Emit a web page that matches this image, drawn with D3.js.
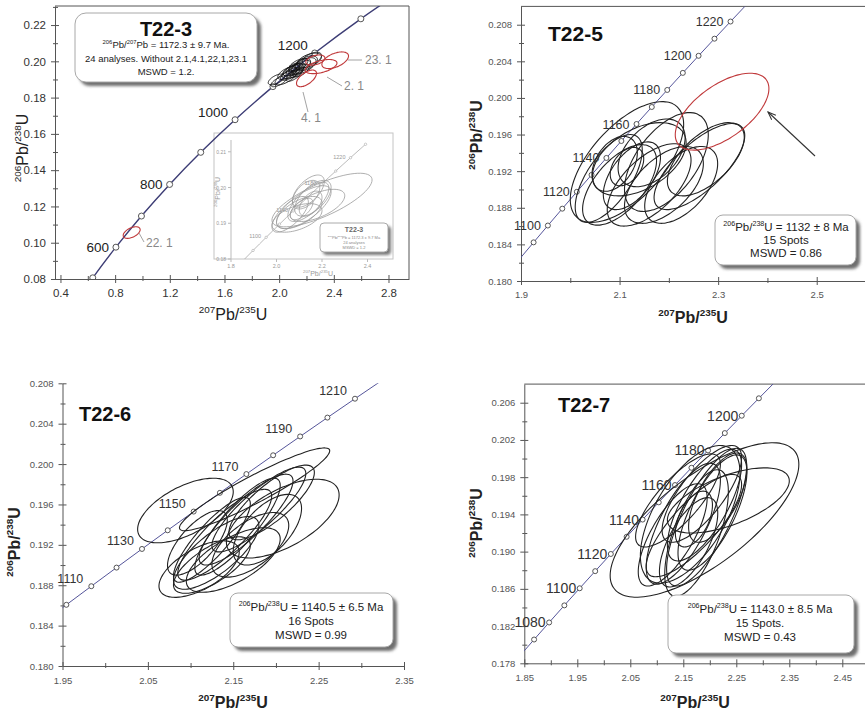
<!DOCTYPE html>
<html><head><meta charset="utf-8">
<script src="https://cdn.jsdelivr.net/npm/d3@7"></script>
<style>body{margin:0;background:#fff}svg{display:block}text{font-family:"Liberation Sans",Arial,sans-serif}</style>
</head><body><svg id="c" width="865" height="713"></svg>
<script>
// ---------------- DATA ----------------
// Concordia (100 Ma steps) for T22-3
const concAges100 = [400,500,600,700,800,900,1000,1100,1200,1300,1400];
const concX100 = [0.48281,0.63628,0.80563,0.99251,1.19873,1.42630,1.67741,1.95452,2.26030,2.59774,2.97010];
const concY100 = [0.064016,0.080650,0.097544,0.114702,0.132129,0.149828,0.167804,0.186061,0.204603,0.223435,0.242562];
// Concordia (10 Ma steps) for T22-5/6/7 and inset
const concAges10 = [1050,1060,1070,1080,1090,1100,1110,1120,1130,1140,1150,1160,1170,1180,1190,1200,1210,1220,1230,1240];
const concX10 = [1.81255,1.84039,1.86850,1.89689,1.92556,1.95452,1.98376,2.01329,2.04311,2.07323,2.10365,2.13436,2.16538,2.19671,2.22835,2.26030,2.29257,2.32516,2.35807,2.39130];
const concY10 = [0.176897,0.178724,0.180554,0.182387,0.184223,0.186061,0.187902,0.189746,0.191594,0.193443,0.195296,0.197152,0.199010,0.200872,0.202736,0.204603,0.206473,0.208346,0.210222,0.212101];

const p1MarkerAges = [500,600,700,800,900,1000,1100,1200,1300];
const p1LabelAges = [600,800,1000,1200];
const p2MarkerAges = [1090,1100,1110,1120,1130,1140,1150,1160,1170,1180,1190,1200,1210,1220];
const p2LabelAges = [1100,1120,1140,1160,1180,1200,1220];
const p3MarkerAges = [1100,1110,1120,1130,1140,1150,1160,1170,1180,1190,1200,1210];
const p3LabelAges = [1110,1130,1150,1170,1190,1210];
const p4MarkerAges = [1070,1080,1090,1100,1110,1120,1130,1140,1150,1160,1170,1180,1190,1200,1210];
const p4LabelAges = [1080,1100,1120,1140,1160,1180,1200];
const insetMarkerAges = [1080,1100,1120,1140,1160,1180,1200,1220,1240];
const insetLabelAges = [1100,1140,1180,1220];

// ellipses: [x, y, sigmaX, sigmaY, rho]
const p1Ellipses = [
 [2.00,0.1890,0.06,0.0030,0.7],[2.05,0.1910,0.08,0.0040,0.7],[2.08,0.1930,0.07,0.0035,0.7],
 [2.10,0.1945,0.08,0.0040,0.6],[2.12,0.1955,0.07,0.0035,0.7],[2.15,0.1965,0.08,0.0040,0.7],
 [2.18,0.1975,0.09,0.0045,0.6],[2.20,0.1990,0.08,0.0040,0.5],[2.22,0.2005,0.09,0.0040,0.5],
 [2.13,0.1940,0.05,0.0030,0.7],[2.09,0.1950,0.06,0.0030,0.6],[2.16,0.1950,0.06,0.0035,0.6],
 [2.11,0.1925,0.06,0.0035,0.7],[2.06,0.1935,0.07,0.0035,0.6],[2.14,0.1980,0.07,0.0035,0.6],
 [2.12,0.1965,0.05,0.0025,0.6],[2.17,0.1985,0.06,0.0030,0.5],[2.10,0.1960,0.05,0.0030,0.6],
 [1.98,0.1900,0.06,0.0030,0.6],[2.24,0.2015,0.07,0.0035,0.5]
];
const p1Rejected = [
 [2.41,0.2006,0.0975,0.0046,0.5],[2.307,0.1971,0.116,0.0039,0.5],[2.20,0.1906,0.073,0.0046,0.6],
 [2.265,0.2007,0.07,0.0028,0.4],[0.921,0.1056,0.062,0.0032,0.5]
];
const p1RejectedLabels = ["23. 1","2. 1","4. 1","22. 1"];
const insetEllipses = [
 [2.20,0.1965,0.22,0.0075,0.75],[2.12,0.1945,0.12,0.0060,0.7],[2.10,0.1930,0.10,0.0045,0.6],
 [2.14,0.1960,0.09,0.0055,0.7],[2.16,0.1970,0.08,0.0050,0.6],[2.09,0.1915,0.11,0.0040,0.5],
 [2.18,0.1950,0.12,0.0045,0.6],[2.13,0.1980,0.06,0.0040,0.5],[2.11,0.1940,0.05,0.0030,0.6],
 [2.15,0.1955,0.05,0.0035,0.5],[2.06,0.1925,0.08,0.0050,0.7],[2.14,0.1990,0.07,0.0045,0.6]
];
const p2Ellipses = [
 [2.115,0.1930,0.115,0.0066,0.62],[2.078,0.1912,0.068,0.0048,0.65],[2.10,0.1905,0.075,0.0044,0.6],
 [2.14,0.1933,0.095,0.0040,0.45],[2.115,0.1925,0.034,0.0021,0.4],[2.125,0.1915,0.058,0.0037,0.55],
 [2.16,0.1905,0.085,0.0045,0.6],[2.19,0.1905,0.08,0.0042,0.55],[2.195,0.1930,0.085,0.0054,0.55],
 [2.262,0.1925,0.092,0.0047,0.72],[2.275,0.1933,0.078,0.0040,0.6],[2.225,0.1905,0.074,0.0042,0.55],
 [2.165,0.1940,0.068,0.0037,0.45],[2.09,0.1928,0.046,0.0030,0.4]
];
const p2Rejected = [[2.308,0.1985,0.095,0.0042,0.6]];
const p3Ellipses = [
 [2.094,0.1954,0.056,0.0032,0.58],[2.208,0.1946,0.066,0.0039,0.6],[2.175,0.1975,0.088,0.0041,0.93],
 [2.11,0.1896,0.047,0.0028,0.6],[2.14,0.1930,0.055,0.0045,0.85],[2.155,0.1938,0.05,0.0048,0.85],
 [2.125,0.1925,0.045,0.0042,0.85],[2.165,0.1945,0.055,0.0045,0.85],[2.13,0.1912,0.05,0.0036,0.75],
 [2.18,0.1955,0.055,0.0042,0.85],[2.15,0.1905,0.055,0.0032,0.65],[2.108,0.1922,0.035,0.0032,0.7],
 [2.17,0.1920,0.045,0.0032,0.6],[2.195,0.1962,0.05,0.0037,0.8],[2.125,0.1900,0.045,0.0028,0.7],
 [2.19,0.1935,0.04,0.0035,0.6]
];
const p4Ellipses = [
 [2.19,0.1934,0.178,0.0083,0.72],[2.235,0.1955,0.115,0.0035,0.6],[2.194,0.1937,0.0755,0.0074,0.75],
 [2.163,0.1940,0.094,0.0074,0.6],[2.15,0.1930,0.07,0.0065,0.72],[2.19,0.1950,0.07,0.0060,0.72],
 [2.14,0.1955,0.08,0.0050,0.78],[2.175,0.1920,0.06,0.0068,0.65],[2.205,0.1942,0.065,0.0062,0.7],
 [2.17,0.1935,0.035,0.0030,0.5],[2.17,0.1928,0.09,0.0055,0.8],[2.13,0.1918,0.065,0.0055,0.72],
 [2.215,0.1958,0.055,0.0048,0.65],[2.16,0.1910,0.055,0.0048,0.65],[2.185,0.1962,0.075,0.0052,0.75]
];

// ticks
const p1XTicks = [0.4,0.8,1.2,1.6,2.0,2.4,2.8];
const p1XMinor = [0.6,1.0,1.4,1.8,2.2,2.6];
const p1YTicks = [0.08,0.10,0.12,0.14,0.16,0.18,0.20,0.22];
const p1YMinor = [0.09,0.11,0.13,0.15,0.17,0.19,0.21,0.23];
const p2XTicks = [1.9,2.1,2.3,2.5];
const p2XMinor = [2.0,2.2,2.4];
const p2YTicks = [0.180,0.184,0.188,0.192,0.196,0.200,0.204,0.208];
const p2YMinor = [0.182,0.186,0.190,0.194,0.198,0.202,0.206];
const p3XTicks = [1.95,2.05,2.15,2.25,2.35];
const p3XMinor = [2.00,2.10,2.20,2.30];
const p3YTicks = [0.180,0.184,0.188,0.192,0.196,0.200,0.204,0.208];
const p3YMinor = [0.182,0.186,0.190,0.194,0.198,0.202,0.206];
const p4XTicks = [1.85,1.95,2.05,2.15,2.25,2.35,2.45];
const p4XMinor = [1.90,2.00,2.10,2.20,2.30,2.40];
const p4YTicks = [0.178,0.182,0.186,0.190,0.194,0.198,0.202,0.206];
const p4YMinor = [0.180,0.184,0.188,0.192,0.196,0.200,0.204];
const insetXTicks = [1.8,2.0,2.2,2.4];
const insetYTicks = [0.18,0.19,0.20,0.21];

// ---------------- DRAWING ----------------
const svg = d3.select("#c");
const defs = svg.append("defs");
const sh = defs.append("filter").attr("id","shadow").attr("x","-20%").attr("y","-20%").attr("width","140%").attr("height","140%");
sh.append("feGaussianBlur").attr("stdDeviation",1.6);
defs.append("marker").attr("id","arrow").attr("viewBox","0 0 10 10").attr("refX",9).attr("refY",5)
  .attr("markerWidth",8).attr("markerHeight",8).attr("orient","auto-start-reverse")
  .append("path").attr("d","M0,1.5 L9,5 L0,8.5").attr("fill","none").attr("stroke","#333").attr("stroke-width",1.2);

function supText(sel, parts, fs){
  let raised=false;
  parts.forEach(p=>{
    const sup=p.startsWith("^");
    const t=sel.append("tspan").text(sup?p.slice(1):p);
    if(sup){t.attr("font-size",fs*0.62); if(!raised){t.attr("dy",-fs*0.42);raised=true;}}
    else{t.attr("font-size",fs); if(raised){t.attr("dy",fs*0.42);raised=false;}}
  });
}
function ellipsePath(e,x,y){
  const [cx,cy,sx,sy,r]=e, k=Math.sqrt(1-r*r);
  const pts=d3.range(72).map(i=>{const t=i/72*2*Math.PI;
    return [x(cx+sx*Math.cos(t)), y(cy+sy*(r*Math.cos(t)+k*Math.sin(t)))];});
  return d3.line().curve(d3.curveCardinalClosed)(pts);
}
let clipN=0;
function drawAxes(g,x,y,o){
  const [x0,x1]=x.range(), [y0,y1]=y.range();
  const styleAx=(a,lbl)=>{a.select(".domain").attr("stroke",o.axisColor);a.selectAll("line").attr("stroke",o.axisColor);
    a.selectAll("text").attr("fill",o.lblColor).attr("font-size",o.lblSize).attr("font-family","Liberation Sans, Arial, sans-serif");
    if(!lbl)a.select(".domain").remove();};
  let a=g.append("g").attr("transform",`translate(0,${y0})`).call(d3.axisBottom(x).tickValues(o.xTicks).tickFormat(o.xFmt).tickSizeInner(4).tickSizeOuter(0).tickPadding(o.xPad));
  styleAx(a,true);
  a=g.append("g").attr("transform",`translate(0,${y0})`).call(d3.axisBottom(x).tickValues(o.xTicks).tickFormat("").tickSizeInner(-4).tickSizeOuter(0)); styleAx(a,false);
  a=g.append("g").attr("transform",`translate(0,${y0})`).call(d3.axisBottom(x).tickValues(o.xMinor).tickFormat("").tickSizeInner(-3).tickSizeOuter(0)); styleAx(a,false);
  a=g.append("g").attr("transform",`translate(0,${y0})`).call(d3.axisBottom(x).tickValues(o.xMinor).tickFormat("").tickSizeInner(2).tickSizeOuter(0)); styleAx(a,false);
  a=g.append("g").attr("transform",`translate(${x0},0)`).call(d3.axisLeft(y).tickValues(o.yTicks).tickFormat(o.yFmt).tickSizeInner(4).tickSizeOuter(0).tickPadding(o.yPad));
  styleAx(a,true);
  a=g.append("g").attr("transform",`translate(${x0},0)`).call(d3.axisLeft(y).tickValues(o.yTicks).tickFormat("").tickSizeInner(-4).tickSizeOuter(0)); styleAx(a,false);
  a=g.append("g").attr("transform",`translate(${x0},0)`).call(d3.axisLeft(y).tickValues(o.yMinor).tickFormat("").tickSizeInner(-3).tickSizeOuter(0)); styleAx(a,false);
  a=g.append("g").attr("transform",`translate(${x0},0)`).call(d3.axisLeft(y).tickValues(o.yMinor).tickFormat("").tickSizeInner(2).tickSizeOuter(0)); styleAx(a,false);
  if(o.frameTop) g.append("line").attr("x1",x0).attr("x2",x1).attr("y1",y1).attr("y2",y1).attr("stroke",o.axisColor);
  if(o.frameRight) g.append("line").attr("x1",x1).attr("x2",x1).attr("y1",y1).attr("y2",y0).attr("stroke",o.axisColor);
}
function makeClip(x,y){
  const id="clip"+(clipN++);
  const [x0,x1]=x.range(), [y0,y1]=y.range();
  defs.append("clipPath").attr("id",id).append("rect").attr("x",x0).attr("y",y1).attr("width",x1-x0).attr("height",y0-y1);
  return id;
}
function drawConcordia(g,x,y,ages,cx,cy,markerAges,labelAges,o){
  const idx=d3.range(ages.length);
  g.append("path").attr("d",d3.line().x(i=>x(cx[i])).y(i=>y(cy[i])).curve(d3.curveCatmullRom)(idx))
    .attr("fill","none").attr("stroke",o.lineColor).attr("stroke-width",o.lineWidth);
  markerAges.forEach(a=>{const i=ages.indexOf(a);
    g.append("circle").attr("cx",x(cx[i])).attr("cy",y(cy[i])).attr("r",o.mr).attr("fill","#fff").attr("stroke",o.mColor).attr("stroke-width",o.mw);});
  labelAges.forEach(a=>{const i=ages.indexOf(a);
    const d=o.lblOff(a);
    g.append("text").attr("x",x(cx[i])+d[0]).attr("y",y(cy[i])+d[1]).attr("text-anchor","end")
      .attr("font-size",o.lblSize).attr("fill",o.lblColor).text(a);});
}
function drawEllipses(g,x,y,list,color,w){
  list.forEach(e=>g.append("path").attr("d",ellipsePath(e,x,y)).attr("fill","none").attr("stroke",color).attr("stroke-width",w));
}
function box(g,x0,y0,w,h,r,lines,cxp,fs,ys){
  g.append("rect").attr("x",x0+4).attr("y",y0+4).attr("width",w).attr("height",h).attr("rx",r).attr("fill","#6e6e6e").attr("filter","url(#shadow)");
  g.append("rect").attr("x",x0).attr("y",y0).attr("width",w).attr("height",h).attr("rx",r).attr("fill","#fff").attr("stroke","#a8a8a8");
  lines.forEach((l,i)=>{const t=g.append("text").attr("x",cxp).attr("y",ys[i]).attr("text-anchor","middle").attr("fill","#222");
    if(Array.isArray(l)) supText(t,l,fs); else t.attr("font-size",fs).text(l);});
}
function axisTitle(g,x,y,parts,fs,bold,rot,color){
  const t=g.append("text").attr("text-anchor","middle").attr("fill",color||"#222").attr("font-weight",bold?"bold":"normal");
  if(rot) t.attr("transform",`translate(${x},${y}) rotate(-90)`); else t.attr("x",x).attr("y",y);
  supText(t,parts,fs);
}
const yT=["^206","Pb/","^238","U"], xT=["^207","Pb/","^235","U"];

// ===== Panel 1: T22-3 =====
{
  const g=svg.append("g");
  const x=d3.scaleLinear([0.36,2.95],[55,409]);
  const y=d3.scaleLinear([0.08,0.2305],[279,6]);
  const ig=g.append("g");
  ig.append("rect").attr("x",214).attr("y",133).attr("width",179).attr("height",126).attr("fill","#fff").attr("stroke","#c4c4c4");
  const ix=d3.scaleLinear([1.8,2.512],[231,393]);
  const iy=d3.scaleLinear([0.18,0.2133],[259,140]);
  ig.append("line").attr("x1",231).attr("x2",231).attr("y1",140).attr("y2",259).attr("stroke","#bbb");
  insetXTicks.forEach(v=>{ig.append("line").attr("x1",ix(v)).attr("x2",ix(v)).attr("y1",259).attr("y2",262).attr("stroke","#bbb");
    ig.append("text").attr("x",ix(v)).attr("y",268).attr("text-anchor","middle").attr("font-size",5.5).attr("fill","#999").text(v.toFixed(1));});
  insetYTicks.forEach(v=>{ig.append("line").attr("x1",228).attr("x2",231).attr("y1",iy(v)).attr("y2",iy(v)).attr("stroke","#bbb");
    ig.append("text").attr("x",226).attr("y",iy(v)+2).attr("text-anchor","end").attr("font-size",5).attr("fill","#999").text(v.toFixed(2));});
  axisTitle(ig,318,276,xT,7,false,false,"#999");
  axisTitle(ig,220,192,yT,7,false,true,"#999");
  const icid=makeClip(ix,iy);
  const icg=ig.append("g").attr("clip-path",`url(#${icid})`);
  drawConcordia(icg,ix,iy,concAges10,concX10,concY10,insetMarkerAges,insetLabelAges,
    {lineColor:"#aaa",lineWidth:0.8,mr:1.2,mColor:"#aaa",mw:0.6,lblSize:5.5,lblColor:"#999",lblOff:()=>[-5,1]});
  drawEllipses(icg,ix,iy,insetEllipses,"#9a9a9a",0.8);
  ig.append("rect").attr("x",323).attr("y",226).attr("width",68).attr("height",29).attr("rx",4).attr("fill","#777").attr("filter","url(#shadow)");
  ig.append("rect").attr("x",320).attr("y",223).attr("width",68).attr("height",29).attr("rx",4).attr("fill","#fff").attr("stroke","#aaa");
  ig.append("text").attr("x",354).attr("y",232).attr("text-anchor","middle").attr("font-size",7).attr("font-weight","bold").attr("fill","#666").text("T22-3");
  supText(ig.append("text").attr("x",354).attr("y",239).attr("text-anchor","middle").attr("fill","#888"),["^206","Pb/","^207","Pb = 1172.3 ± 9.7 Ma"],4);
  ig.append("text").attr("x",354).attr("y",244).attr("text-anchor","middle").attr("font-size",4).attr("fill","#888").text("24 analyses");
  ig.append("text").attr("x",354).attr("y",249).attr("text-anchor","middle").attr("font-size",4).attr("fill","#888").text("MSWD = 1.2");

  drawAxes(g,x,y,{xTicks:p1XTicks,xMinor:p1XMinor,yTicks:p1YTicks,yMinor:p1YMinor,xFmt:d3.format(".1f"),yFmt:d3.format(".2f"),
    axisColor:"#555",lblColor:"#333",lblSize:11.5,xPad:6,yPad:5,frameTop:true,frameRight:true});
  const cid=makeClip(x,y);
  const cg=g.append("g").attr("clip-path",`url(#${cid})`);
  drawConcordia(cg,x,y,concAges100,concX100,concY100,p1MarkerAges,[], 
    {lineColor:"#3d3d75",lineWidth:1.4,mr:3,mColor:"#555",mw:1});
  drawEllipses(cg,x,y,p1Ellipses,"#111",0.9);
  drawEllipses(cg,x,y,p1Rejected,"#c0393b",1.1);
  p1LabelAges.forEach(a=>{const i=concAges100.indexOf(a);
    g.append("text").attr("x",x(concX100[i])-7).attr("y",y(concY100[i])+(a>=1000?-3:5)).attr("text-anchor","end")
      .attr("font-size",13.5).attr("fill","#222").text(a);});
  const lead=[[348,60,362,60,365,64],[327,77,342,86,344,90],[303,92,308,112,301,122],[139,233,144,242,146,247]];
  p1RejectedLabels.forEach((l,i)=>{const d=lead[i];
    g.append("line").attr("x1",d[0]).attr("y1",d[1]).attr("x2",d[2]).attr("y2",d[3]).attr("stroke","#999").attr("stroke-width",0.9);
    g.append("text").attr("x",d[4]).attr("y",d[5]).attr("font-family","Liberation Serif, serif").attr("font-size",12).attr("fill","#888").text(l);});
  box(g,75,13,182,69,11,["",["^206","Pb/","^207","Pb = 1172.3 ± 9.7 Ma."],"24 analyses. Without  2.1,4.1,22,1,23.1","MSWD = 1.2."],166,9.5,[0,48,62,75]);
  g.append("text").attr("x",166).attr("y",36).attr("text-anchor","middle").attr("font-size",20).attr("font-weight","bold").attr("fill","#111").text("T22-3");
  axisTitle(g,233,320,xT,16,false,false);
  axisTitle(g,28,148,yT,16,false,true);
}

// ===== Panel 2: T22-5 =====
{
  const g=svg.append("g");
  const x=d3.scaleLinear([1.9,2.6],[521,866]);
  const y=d3.scaleLinear([0.18,0.21],[281,6.4]);
  drawAxes(g,x,y,{xTicks:p2XTicks,xMinor:p2XMinor,yTicks:p2YTicks,yMinor:p2YMinor,xFmt:d3.format(".1f"),yFmt:d3.format(".3f"),
    axisColor:"#555",lblColor:"#555",lblSize:9.5,xPad:6,yPad:5,frameTop:true,frameRight:false});
  const cid=makeClip(x,y);
  const cg=g.append("g").attr("clip-path",`url(#${cid})`);
  drawConcordia(cg,x,y,concAges10,concX10,concY10,p2MarkerAges,[],
    {lineColor:"#55559a",lineWidth:1,mr:2.5,mColor:"#444",mw:0.9});
  drawEllipses(cg,x,y,p2Ellipses,"#222",1.1);
  drawEllipses(cg,x,y,p2Rejected,"#c0393b",1.1);
  p2LabelAges.forEach(a=>{const i=concAges10.indexOf(a);
    g.append("text").attr("x",x(concX10[i])-7).attr("y",y(concY10[i])+4.5).attr("text-anchor","end")
      .attr("font-size",12.5).attr("fill","#333").text(a);});
  g.append("line").attr("x1",815).attr("y1",156).attr("x2",768).attr("y2",112).attr("stroke","#333").attr("stroke-width",1.1).attr("marker-end","url(#arrow)");
  box(g,715,215,141,50,8,[["^206","Pb/","^238","U = 1132 ± 8 Ma"],"15 Spots","MSWD = 0.86"],786,11.5,[231,244,257]);
  g.append("text").attr("x",548).attr("y",41).attr("font-size",21).attr("font-weight","bold").attr("fill","#111").text("T22-5");
  axisTitle(g,693,323,xT,16,true,false);
  axisTitle(g,482,135,yT,16,true,true);
}

// ===== Panel 3: T22-6 =====
{
  const g=svg.append("g");
  const x=d3.scaleLinear([1.95,2.35],[62.5,404]);
  const y=d3.scaleLinear([0.18,0.208],[666,383.3]);
  drawAxes(g,x,y,{xTicks:p3XTicks,xMinor:p3XMinor,yTicks:p3YTicks,yMinor:p3YMinor,xFmt:d3.format(".2f"),yFmt:d3.format(".3f"),
    axisColor:"#555",lblColor:"#555",lblSize:9.5,xPad:7,yPad:5,frameTop:false,frameRight:false});
  const cid=makeClip(x,y);
  const cg=g.append("g").attr("clip-path",`url(#${cid})`);
  drawConcordia(cg,x,y,concAges10,concX10,concY10,p3MarkerAges,[],
    {lineColor:"#55559a",lineWidth:1,mr:2.5,mColor:"#444",mw:0.9});
  drawEllipses(cg,x,y,p3Ellipses,"#222",1.1);
  p3LabelAges.forEach(a=>{const i=concAges10.indexOf(a);
    g.append("text").attr("x",x(concX10[i])-8).attr("y",y(concY10[i])-3.5).attr("text-anchor","end")
      .attr("font-size",12.5).attr("fill","#333").text(a);});
  box(g,230,593,163,54,8,[["^206","Pb/","^238","U = 1140.5 ± 6.5 Ma"],"16 Spots","MSWD = 0.99"],311,11.5,[611,625,639]);
  g.append("text").attr("x",79).attr("y",421).attr("font-size",20).attr("font-weight","bold").attr("fill","#111").text("T22-6");
  axisTitle(g,233,708,xT,16,true,false);
  axisTitle(g,20,542,yT,16,true,true);
}

// ===== Panel 4: T22-7 =====
{
  const g=svg.append("g");
  const x=d3.scaleLinear([1.85,2.5],[524.3,868.8]);
  const y=d3.scaleLinear([0.178,0.208],[663.3,384.1]);
  drawAxes(g,x,y,{xTicks:p4XTicks,xMinor:p4XMinor,yTicks:p4YTicks,yMinor:p4YMinor,xFmt:d3.format(".2f"),yFmt:d3.format(".3f"),
    axisColor:"#555",lblColor:"#555",lblSize:9.5,xPad:7,yPad:5,frameTop:true,frameRight:false});
  const cid=makeClip(x,y);
  const cg=g.append("g").attr("clip-path",`url(#${cid})`);
  drawConcordia(cg,x,y,concAges10,concX10,concY10,p4MarkerAges,[],
    {lineColor:"#55559a",lineWidth:1,mr:2.5,mColor:"#444",mw:0.9});
  drawEllipses(cg,x,y,p4Ellipses,"#222",1.1);
  p4LabelAges.forEach(a=>{const i=concAges10.indexOf(a);
    g.append("text").attr("x",x(concX10[i])-3.5).attr("y",y(concY10[i])+5).attr("text-anchor","end")
      .attr("font-size",14).attr("fill","#333").text(a);});
  box(g,668,595,186,58,8,[["^206","Pb/","^238","U = 1143.0 ± 8.5 Ma"],"15 Spots.","MSWD = 0.43"],760,11.5,[613,627,641]);
  g.append("text").attr("x",558).attr("y",412).attr("font-size",20).attr("font-weight","bold").attr("fill","#111").text("T22-7");
  axisTitle(g,695,708,xT,16,true,false);
  axisTitle(g,482,523,yT,16,true,true);
}
</script></body></html>
